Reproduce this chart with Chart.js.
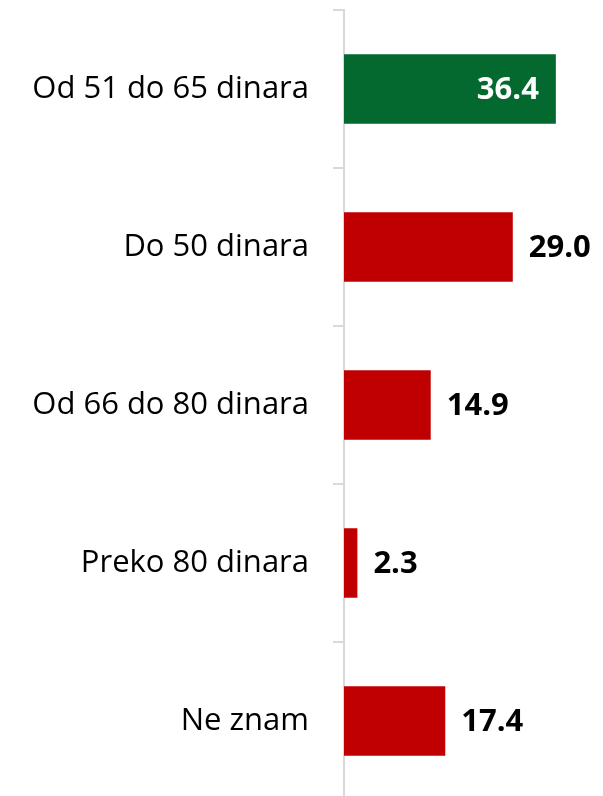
<!DOCTYPE html>
<html>
<head>
<meta charset="utf-8">
<script src="https://cdn.jsdelivr.net/npm/chart.js@4.4.1/dist/chart.umd.min.js"></script>
<style>
  html, body { margin: 0; padding: 0; background: #fff; overflow: hidden; }
  #wrap { width: 603px; height: 800px; position: relative; }
</style>
</head>
<body>
<div id="wrap"><canvas id="chart"></canvas></div>
<script>
// Chart data
const categories = ['Od 51 do 65 dinara', 'Do 50 dinara', 'Od 66 do 80 dinara', 'Preko 80 dinara', 'Ne znam'];
const values = [36.4, 29.0, 14.9, 2.3, 17.4];
const barColors = ['#03692E', '#C00000', '#C00000', '#C00000', '#C00000'];

// Draw the value next to (or inside) each bar
const valueLabels = {
    id: 'valueLabels',
    afterDatasetsDraw(chart) {
        const ctx = chart.ctx;
        const meta = chart.getDatasetMeta(0);
        ctx.save();
        ctx.font = 'bold 31px "Open Sans"';
        ctx.textBaseline = 'middle';
        meta.data.forEach((bar, i) => {
            const text = values[i].toFixed(1);
            if (i === 0) {
                ctx.fillStyle = '#ffffff';
                ctx.textAlign = 'right';
                ctx.fillText(text, bar.x - 17, bar.y + 1);
            } else {
                ctx.fillStyle = '#000000';
                ctx.textAlign = 'left';
                ctx.fillText(text, bar.x + 16, bar.y + 1);
            }
        });
        ctx.restore();
    }
};

new Chart(document.getElementById('chart'), {
    type: 'bar',
    data: {
        labels: categories,
        datasets: [{
            data: values,
            backgroundColor: barColors,
            barPercentage: 0.44,
            categoryPercentage: 1.0
        }]
    },
    plugins: [valueLabels],
    options: {
        indexAxis: 'y',
        responsive: true,
        maintainAspectRatio: false,
        animation: false,
        layout: { padding: { top: 10, right: 0, bottom: 0, left: 0 } },
        plugins: {
            legend: { display: false },
            tooltip: { enabled: false }
        },
        scales: {
            x: {
                display: false,
                min: 0,
                max: 44.5
            },
            y: {
                afterFit(scale) {
                    // fixed axis position, no extra label padding top/bottom
                    scale.width = 344;
                    scale.paddingTop = 0;
                    scale.paddingBottom = 0;
                },
                grid: {
                    offset: true,
                    drawOnChartArea: false,
                    tickLength: 11,
                    color: '#d9d9d9',
                    lineWidth: 2
                },
                border: { color: '#d9d9d9', width: 2 },
                ticks: {
                    color: '#000000',
                    padding: 24,
                    font: { family: '"Open Sans"', size: 31 }
                }
            }
        }
    }
});
</script>
</body>
</html>
